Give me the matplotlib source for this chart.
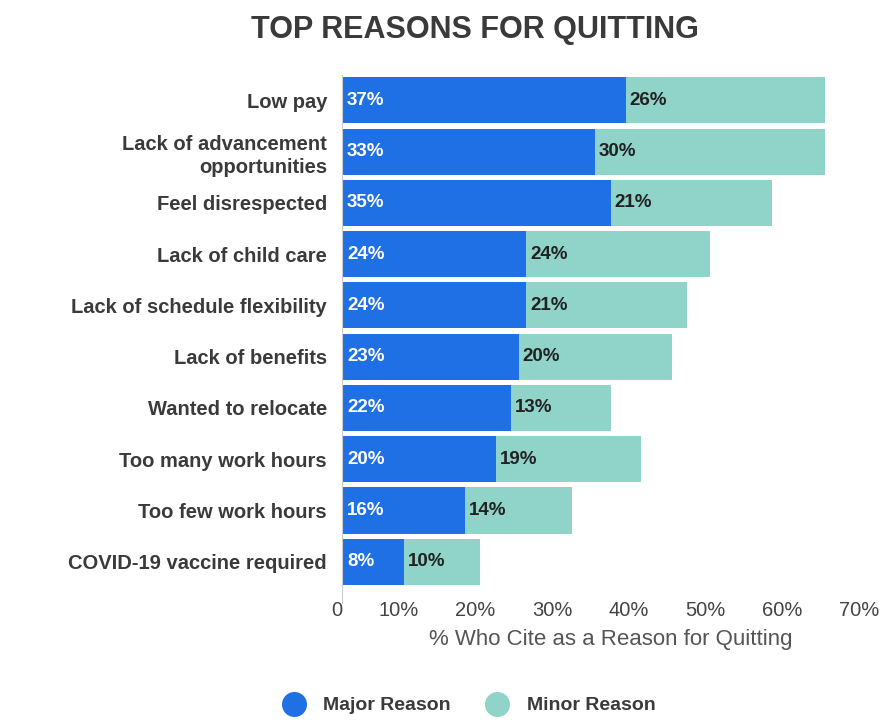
import matplotlib.pyplot as plt
import matplotlib.transforms as mtransforms
from matplotlib.lines import Line2D

plt.rcParams['font.family'] = ['Liberation Sans', 'DejaVu Sans']

reasons = ['Low pay', 'Lack of advancement\nopportunities', 'Feel disrespected',
           'Lack of child care', 'Lack of schedule flexibility', 'Lack of benefits',
           'Wanted to relocate', 'Too many work hours', 'Too few work hours',
           'COVID-19 vaccine required']
major = [37, 33, 35, 24, 24, 23, 22, 20, 16, 8]
minor = [26, 30, 21, 24, 21, 20, 13, 19, 14, 10]
xticks = [0, 10, 20, 30, 40, 50, 60, 70]
xticklabels = ['0', '10%', '20%', '30%', '40%', '50%', '60%', '70%']

major_color = '#1f6fe5'
minor_color = '#8fd3c9'

fig = plt.figure(figsize=(8.94, 7.26), dpi=100)
ax = fig.add_axes([0.383, 0.191, 0.600, 0.706])

ypos = list(range(len(reasons)))
ax.barh(ypos, major, height=0.9, color=major_color)
ax.barh(ypos, minor, left=major, height=0.9, color=minor_color)

for y, a, b in zip(ypos, major, minor):
    ax.text(0.6, y, f'{a}%', va='center', ha='left', color='white',
            fontsize=13.5, fontweight='bold')
    ax.text(a + 0.5, y, f'{b}%', va='center', ha='left', color='#222222',
            fontsize=13.5, fontweight='bold')

ax.set_ylim(len(reasons) - 0.5, -0.5)
ax.set_xlim(0, 70)
ax.set_yticks(ypos)
ax.set_yticklabels(reasons, fontsize=14.5, color='#3a3a3a', fontweight='bold',
                   linespacing=1.3)
ax.set_xticks(xticks)
ax.set_xticklabels(xticklabels, fontsize=14.5, color='#444444')
for lbl in ax.get_xticklabels():
    lbl.set_ha('right')
# nudge the "0" label left of the axis line, as in the original
zero = ax.get_xticklabels()[0]
zero.set_transform(zero.get_transform() +
                   mtransforms.ScaledTranslation(-8 / 72, 0, fig.dpi_scale_trans))
ax.tick_params(axis='both', length=0)
ax.tick_params(axis='y', pad=11)
ax.tick_params(axis='x', pad=10)
ax.set_xlabel('% Who Cite as a Reason for Quitting', fontsize=16, color='#555555',
              labelpad=6)

for side in ['top', 'right', 'bottom']:
    ax.spines[side].set_visible(False)
ax.spines['left'].set_color('#cccccc')
ax.spines['left'].set_bounds(len(reasons) - 0.5 + 0.3, -0.5)

fig.text(0.531, 0.958, 'TOP REASONS FOR QUITTING', ha='center', va='center',
         fontsize=22, fontweight='bold', color='#3a3a3a')

handles = [Line2D([], [], marker='o', linestyle='none', markersize=17,
                  markerfacecolor=major_color, markeredgecolor=major_color),
           Line2D([], [], marker='o', linestyle='none', markersize=17,
                  markerfacecolor=minor_color, markeredgecolor=minor_color)]
fig.legend(handles, ['Major Reason', 'Minor Reason'], loc='center',
           bbox_to_anchor=(0.52, 0.028), ncol=2, frameon=False,
           prop={'size': 14, 'weight': 'bold'},
           handletextpad=0.5, columnspacing=1.4, labelcolor='#3a3a3a')

plt.savefig('out.png', dpi=100)
